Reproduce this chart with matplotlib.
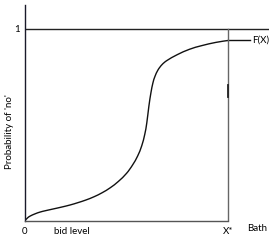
import matplotlib
matplotlib.use("Agg")
import matplotlib.pyplot as plt
from matplotlib.path import Path
from matplotlib.patches import PathPatch
import numpy as np

plt.rcParams['font.family'] = ['Lato', 'DejaVu Sans']

# Curve F(X): bid level (X* = 1) vs probability of 'no'
bid = [0.0, 0.012, 0.025, 0.05, 0.074, 0.10, 0.138, 0.18, 0.222, 0.26,
       0.30, 0.34, 0.38, 0.42, 0.46, 0.50, 0.53, 0.555, 0.575, 0.59,
       0.60, 0.61, 0.62, 0.63, 0.64, 0.655, 0.675, 0.70, 0.75, 0.81,
       0.87, 0.94, 1.0]
prob = [0.0, 0.013, 0.023, 0.035, 0.044, 0.051, 0.060, 0.070, 0.081, 0.093,
        0.107, 0.124, 0.145, 0.171, 0.204, 0.246, 0.290, 0.337, 0.39, 0.45,
        0.51, 0.595, 0.665, 0.718, 0.752, 0.786, 0.814, 0.836, 0.866, 0.894,
        0.913, 0.930, 0.940]
label_line_end = 1.108
xstar = 1.0
xtick_labels = ['0', 'X*']
ytick_labels = ['1']

fig = plt.figure(figsize=(2.69, 2.40), dpi=100)
ax = fig.add_axes([25/269, 19.5/240, 244/269, 215.5/240])
ax.set_xlim(0, 244/203)
ax.set_ylim(0, 215.5/191.5)

# smooth curve through the points (Catmull-Rom as cubic Bezier segments)
pts = np.column_stack([bid, prob])
verts = [tuple(pts[0])]
codes = [Path.MOVETO]
n = len(pts)
for i in range(n - 1):
    p0 = pts[i - 1] if i > 0 else pts[i]
    p1 = pts[i]
    p2 = pts[i + 1]
    p3 = pts[i + 2] if i + 2 < n else pts[i + 1]
    c1 = p1 + (p2 - p0) / 6.0
    c2 = p2 - (p3 - p1) / 6.0
    verts += [tuple(c1), tuple(c2), tuple(p2)]
    codes += [Path.CURVE4] * 3
ax.add_patch(PathPatch(Path(verts, codes), fill=False, lw=1.0, color='#111111'))
ax.plot([bid[-1], label_line_end], [prob[-1], prob[-1]], color='#111111', lw=1.0)

# frame lines
ax.axhline(1.0, color='#222222', lw=1.0)
ax.plot([xstar, xstar], [0, 1.0], color='#666666', lw=1.0)
ax.plot([xstar, xstar], [0.645, 0.708], color='#222222', lw=1.3)
for s in ['top', 'right']:
    ax.spines[s].set_visible(False)
ax.spines['left'].set_color('#1a1a2a')
ax.spines['left'].set_linewidth(1.0)
ax.spines['bottom'].set_color('#555555')
ax.spines['bottom'].set_linewidth(1.0)
ax.spines['bottom'].set_bounds(0, xstar)

ax.set_xticks([0, xstar])
ax.set_xticklabels(xtick_labels, fontsize=7)
ax.set_yticks([1.0])
ax.set_yticklabels(ytick_labels, fontsize=7)
ax.tick_params(length=0, pad=4)
ax.tick_params(axis='x', pad=5)

ax.text(0.232, -0.058, 'bid level', fontsize=7, ha='center', va='center')
ax.text(1.094, -0.04, 'Bath', fontsize=7, ha='left', va='center')
ax.text(1.118, prob[-1], 'F(X)', fontsize=7, ha='left', va='center')
fig.text(10/269, 1 - 132/240, "Probability of 'no'", rotation=90,
         fontsize=7, ha='center', va='center')

fig.savefig('out.png', dpi=100)
